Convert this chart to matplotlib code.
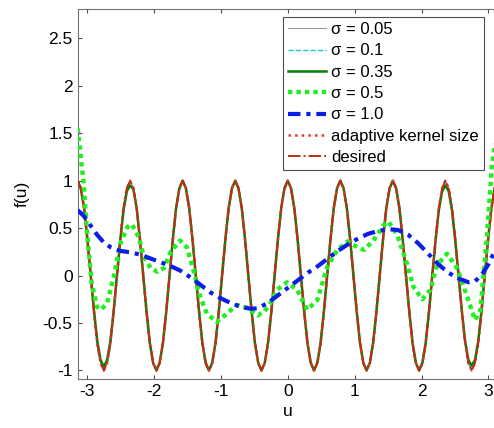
import numpy as np
import matplotlib
matplotlib.use('Agg')
from matplotlib import pyplot as plt

plt.rcParams['font.family'] = ['Liberation Sans', 'DejaVu Sans']

# sample positions for the fast-oscillating curves (-pi .. pi, 129 samples)
u_fine = np.linspace(-3.1416, 3.1416, 129)

# desired output
desired = [
    1.00, 0.92, 0.71, 0.38, 0.00, -0.38, -0.71, -0.92, -1.00, -0.92, -0.71, -0.38, 0.00, 0.38, 0.71, 0.92,
    1.00, 0.92, 0.71, 0.38, 0.00, -0.38, -0.71, -0.92, -1.00, -0.92, -0.71, -0.38, 0.00, 0.38, 0.71, 0.92,
    1.00, 0.92, 0.71, 0.38, 0.00, -0.38, -0.71, -0.92, -1.00, -0.92, -0.71, -0.38, 0.00, 0.38, 0.71, 0.92,
    1.00, 0.92, 0.71, 0.38, 0.00, -0.38, -0.71, -0.92, -1.00, -0.92, -0.71, -0.38, 0.00, 0.38, 0.71, 0.92,
    1.00, 0.92, 0.71, 0.38, 0.00, -0.38, -0.71, -0.92, -1.00, -0.92, -0.71, -0.38, 0.00, 0.38, 0.71, 0.92,
    1.00, 0.92, 0.71, 0.38, 0.00, -0.38, -0.71, -0.92, -1.00, -0.92, -0.71, -0.38, 0.00, 0.38, 0.71, 0.92,
    1.00, 0.92, 0.71, 0.38, 0.00, -0.38, -0.71, -0.92, -1.00, -0.92, -0.71, -0.38, 0.00, 0.38, 0.71, 0.92,
    1.00, 0.92, 0.71, 0.38, 0.00, -0.38, -0.71, -0.92, -1.00, -0.92, -0.71, -0.38, 0.00, 0.38, 0.71, 0.92,
    1.00]

# sigma = 0.35: same shape, a bit lower at the outer peaks
sig_035 = [
    1.00, 0.92, 0.71, 0.38, 0.00, -0.37, -0.69, -0.89, -0.96, -0.89, -0.69, -0.37, 0.00, 0.37, 0.69, 0.89,
    0.95, 0.91, 0.71, 0.38, 0.00, -0.38, -0.71, -0.92, -1.00, -0.92, -0.71, -0.38, 0.00, 0.38, 0.71, 0.92,
    1.00, 0.92, 0.71, 0.38, 0.00, -0.38, -0.71, -0.92, -1.00, -0.92, -0.71, -0.38, 0.00, 0.38, 0.71, 0.92,
    1.00, 0.92, 0.71, 0.38, 0.00, -0.38, -0.71, -0.92, -1.00, -0.92, -0.71, -0.38, 0.00, 0.38, 0.71, 0.92,
    1.00, 0.92, 0.71, 0.38, 0.00, -0.38, -0.71, -0.92, -1.00, -0.92, -0.71, -0.38, 0.00, 0.38, 0.71, 0.92,
    1.00, 0.92, 0.71, 0.38, 0.00, -0.38, -0.71, -0.92, -1.00, -0.92, -0.71, -0.38, 0.00, 0.38, 0.71, 0.92,
    1.00, 0.92, 0.71, 0.38, 0.00, -0.38, -0.71, -0.92, -1.00, -0.92, -0.71, -0.38, 0.00, 0.37, 0.69, 0.89,
    0.95, 0.89, 0.69, 0.37, 0.00, -0.37, -0.69, -0.89, -0.95, -0.89, -0.69, -0.37, 0.00, 0.38, 0.71, 0.92,
    1.00]

# small kernels follow the desired curve
sig_005 = desired
sig_01 = desired
adaptive = desired

# sigma = 0.5
u_05 = [-3.14, -3.05, -3.00, -2.93, -2.85, -2.79, -2.70, -2.60, -2.50, -2.40, -2.33, -2.23, -2.15,
        -2.05, -1.95, -1.85, -1.75, -1.61, -1.51, -1.41, -1.31, -1.21, -1.06, -0.91, -0.76, -0.61,
        -0.45, -0.35, -0.26, -0.16, -0.01, 0.14, 0.29, 0.44, 0.59, 0.74, 0.89, 1.04, 1.14, 1.28,
        1.43, 1.50, 1.63, 1.78, 1.88, 2.01, 2.13, 2.23, 2.38, 2.53, 2.68, 2.80, 2.88, 2.98, 3.05, 3.14]
f_05 = [1.55, 0.97, 0.45, -0.08, -0.33, -0.36, -0.29, -0.01, 0.34, 0.51, 0.54, 0.41, 0.20,
        0.08, 0.04, 0.08, 0.25, 0.37, 0.30, 0.06, -0.22, -0.40, -0.49, -0.40, -0.31, -0.34,
        -0.42, -0.38, -0.29, -0.15, -0.07, -0.15, -0.36, -0.26, 0.09, 0.27, 0.36, 0.30, 0.27, 0.37,
        0.53, 0.57, 0.44, 0.13, -0.12, -0.25, -0.15, 0.11, 0.23, 0.08, -0.22, -0.47, -0.36, 0.44, 1.15, 1.60]

# sigma = 1.0
u_10 = [-3.14, -3.05, -2.95, -2.85, -2.75, -2.65, -2.5, -2.35, -2.2, -2.05, -1.9, -1.75, -1.6,
        -1.45, -1.3, -1.15, -1.0, -0.85, -0.7, -0.55, -0.45, -0.3, -0.15, 0.0, 0.15, 0.3, 0.45,
        0.6, 0.75, 0.9, 1.05, 1.2, 1.35, 1.5, 1.65, 1.8, 1.95, 2.1, 2.25, 2.4, 2.55, 2.7, 2.8,
        2.9, 3.0, 3.08, 3.14]
f_10 = [0.69, 0.63, 0.53, 0.43, 0.35, 0.30, 0.26, 0.245, 0.22, 0.18, 0.14, 0.10, 0.05,
        -0.02, -0.10, -0.18, -0.24, -0.29, -0.33, -0.35, -0.345, -0.29, -0.21, -0.13, -0.05, 0.03, 0.10,
        0.18, 0.26, 0.33, 0.39, 0.44, 0.47, 0.49, 0.48, 0.43, 0.34, 0.23, 0.12, 0.03, -0.03, -0.07, -0.06,
        0.01, 0.12, 0.24, 0.34]

fig = plt.figure(figsize=(4.94, 4.28), dpi=100)
ax = fig.add_axes([0.157, 0.1145, 0.851, 0.8645])

ax.plot(u_fine, sig_005, color='0.6', lw=0.8, label='σ = 0.05', zorder=2)
ax.plot(u_fine, sig_01, color='#20c0c8', lw=1.0, ls='--', label='σ = 0.1', zorder=2)
ax.plot(u_fine, sig_035, color='#008000', lw=1.8, label='σ = 0.35', zorder=2)
ax.plot(u_05, f_05, color='#22ee22', lw=3.2, ls=(0, (1, 0.9)), label='σ = 0.5', zorder=4)
ax.plot(u_10, f_10, color='#0a1ee8', lw=3.0, ls=(0, (3, 1.4, 1, 1.4)), label='σ = 1.0', zorder=4)
ax.plot(u_fine, adaptive, color='#e8382a', lw=1.8, ls=':', label='adaptive kernel size', zorder=3)
ax.plot(u_fine, desired, color='#b8301a', lw=1.4, ls='-.', label='desired', zorder=3)

ax.set_xlim(-3.1416, 3.1416)
ax.set_ylim(-1.09, 2.81)
ax.set_xticks([-3, -2, -1, 0, 1, 2, 3])
ax.set_yticks([-1, -0.5, 0, 0.5, 1, 1.5, 2, 2.5])
ax.set_yticklabels(['-1', '-0.5', '0', '0.5', '1', '1.5', '2', '2.5'])
ax.set_xticklabels(['-3', '-2', '-1', '0', '1', '2', '3'])
ax.tick_params(direction='in', top=True, right=True, labelsize=12.5, length=3, color='0.3')
for sp in ax.spines.values():
    sp.set_color('0.45')
ax.set_xlabel('u', fontsize=12.5, labelpad=4)
ax.set_ylabel('f(u)', fontsize=12.5, labelpad=9)

leg = ax.legend(loc='upper right', bbox_to_anchor=(0.967, 0.978), borderaxespad=0,
                fontsize=12, fancybox=False, framealpha=1, edgecolor='0.3',
                handlelength=2.3, handletextpad=0.3, labelspacing=0.38, borderpad=0.3)
leg.get_frame().set_linewidth(0.8)

fig.savefig('out.png', dpi=100)
